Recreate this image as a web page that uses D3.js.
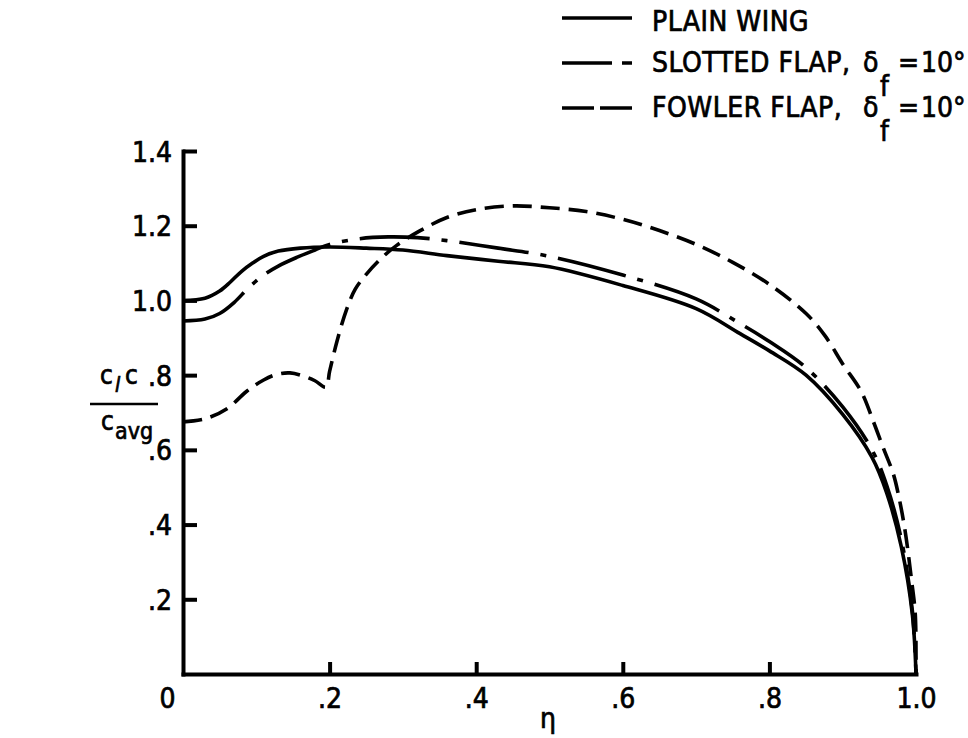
<!DOCTYPE html>
<html>
<head>
<meta charset="utf-8">
<script src="https://cdn.jsdelivr.net/npm/d3@7"></script>
<style>
  body { margin: 0; background: #fff; }
  svg { display: block; }
  text { font-family: "DejaVu Sans Condensed", sans-serif; fill: #000; stroke: #000; stroke-width: 0.7px; }
</style>
</head>
<body>
<svg width="968" height="738"></svg>
<script>
const svg = d3.select('svg');

// spanwise station eta and section load c_l c / c_avg
const plainEta = [0, 0.03, 0.05, 0.065, 0.08, 0.095, 0.11, 0.13, 0.16, 0.2, 0.25, 0.3, 0.36, 0.43, 0.5, 0.6, 0.7, 0.76, 0.8, 0.85, 0.9, 0.94, 0.96, 0.98, 0.995, 1.0];
const plainVal = [1.0, 1.006, 1.025, 1.05, 1.078, 1.1, 1.118, 1.132, 1.14, 1.143, 1.14, 1.135, 1.12, 1.105, 1.09, 1.04, 0.978, 0.911, 0.865, 0.8, 0.695, 0.58, 0.485, 0.34, 0.16, 0];

const slottedEta = [0, 0.03, 0.05, 0.07, 0.09, 0.11, 0.13, 0.155, 0.18, 0.2, 0.24, 0.28, 0.32, 0.36, 0.43, 0.5, 0.6, 0.7, 0.76, 0.8, 0.85, 0.9, 0.94, 0.96, 0.98, 0.995, 1.0];
const slottedVal = [0.945, 0.95, 0.965, 0.995, 1.035, 1.068, 1.092, 1.115, 1.135, 1.15, 1.165, 1.17, 1.168, 1.16, 1.14, 1.118, 1.068, 1.004, 0.938, 0.89, 0.82, 0.715, 0.6, 0.505, 0.36, 0.17, 0];

const fowlerEta = [0, 0.03, 0.06, 0.087, 0.11, 0.128, 0.146, 0.165, 0.18, 0.195, 0.2, 0.21, 0.223, 0.235, 0.25, 0.27, 0.292, 0.323, 0.36, 0.4, 0.45, 0.5, 0.55, 0.6, 0.65, 0.7, 0.75, 0.8, 0.85, 0.876, 0.9, 0.925, 0.942, 0.955, 0.969, 0.976, 0.985, 0.994, 0.999, 1.0];
const fowlerVal = [0.675, 0.683, 0.71, 0.757, 0.787, 0.802, 0.806, 0.797, 0.785, 0.768, 0.81, 0.89, 0.975, 1.03, 1.07, 1.112, 1.148, 1.186, 1.222, 1.243, 1.253, 1.248, 1.238, 1.217, 1.187, 1.15, 1.102, 1.043, 0.965, 0.905, 0.83, 0.757, 0.675, 0.607, 0.536, 0.48, 0.385, 0.25, 0.16, 0];

const xTicks = [0, 0.2, 0.4, 0.6, 0.8, 1.0];
const yTicks = [0.2, 0.4, 0.6, 0.8, 1.0, 1.2, 1.4];

const legendNames = ["PLAIN WING", "SLOTTED FLAP,", "FOWLER FLAP,"];

const DASH = {
    plain: null,
    slotted: "70 12 6 12",
    fowler: "19 9"
};
const LW = 3.6;
const FS = 28;

const x = d3.scaleLinear().domain([0, 1]).range([183, 916]);
const y = d3.scaleLinear().domain([0, 1.4]).range([674, 151]);

const fmt = d => d === 0 ? "0" : (d >= 1 ? d.toFixed(1) : d.toFixed(1).slice(1));

// axes
const gx = svg.append("g")
    .attr("transform", `translate(0,${y(0)})`)
    .call(d3.axisBottom(x).tickValues(xTicks).tickSizeInner(-12).tickSizeOuter(0).tickPadding(14).tickFormat(fmt));
const gy = svg.append("g")
    .attr("transform", `translate(${x(0)},0)`)
    .call(d3.axisLeft(y).tickValues(yTicks).tickSizeInner(-14).tickSizeOuter(0).tickPadding(11).tickFormat(fmt));

[gx, gy].forEach(g => {
    g.select(".domain").attr("stroke", "#000").attr("stroke-width", 4).attr("stroke-linecap", "square");
    g.selectAll(".tick line").attr("stroke", "#000").attr("stroke-width", 4);
    g.selectAll(".tick text").attr("font-size", FS).attr("font-family", null).attr("fill", null);
});
gx.selectAll(".tick").filter(d => d === 0 || d === 1).select("line").remove();
gx.selectAll(".tick").filter(d => d === 0).select("text").attr("dx", -16);
gx.selectAll(".tick text").attr("dy", "0.71em");
gy.selectAll(".tick text").attr("dy", "0.36em");

// curves
const line = d3.line()
    .x(d => x(d[0]))
    .y(d => y(d[1]))
    .curve(d3.curveCatmullRom.alpha(0.5));

const series = [
    { eta: plainEta, val: plainVal, dash: DASH.plain },
    { eta: slottedEta, val: slottedVal, dash: DASH.slotted },
    { eta: fowlerEta, val: fowlerVal, dash: DASH.fowler }
];

svg.append("g")
    .attr("fill", "none")
    .attr("stroke", "#000")
    .attr("stroke-width", LW)
    .selectAll("path")
    .data(series)
    .join("path")
    .attr("d", s => line(d3.zip(s.eta, s.val)))
    .attr("stroke-dasharray", s => s.dash);

// axis titles
const yl = svg.append("g").attr("font-size", 26);
yl.append("text").attr("x", 100).attr("y", 384).text("c");
yl.append("text").attr("x", 115).attr("y", 392).attr("font-size", 21).attr("font-family", "DejaVu Serif").attr("font-style", "italic").text("l");
yl.append("text").attr("x", 125).attr("y", 384).text("c");
yl.append("line").attr("x1", 90).attr("x2", 158).attr("y1", 404).attr("y2", 404).attr("stroke", "#000").attr("stroke-width", 2.5);
yl.append("text").attr("x", 101).attr("y", 430).text("c");
yl.append("text").attr("x", 115).attr("y", 439).attr("font-size", 23).text("avg");

svg.append("text").attr("x", 548).attr("y", 728).attr("text-anchor", "middle").attr("font-size", FS).text("η");

// legend
const lg = svg.append("g").attr("font-size", FS);
const rows = [
    { name: legendNames[0], dash: DASH.plain, ly: 18, ty: 31, delta: false },
    { name: legendNames[1], dash: "50 10 12 40", ly: 63, ty: 72, delta: true },
    { name: legendNames[2], dash: "32 6", ly: 108, ty: 117, delta: true }
];
rows.forEach(r => {
    lg.append("line")
        .attr("x1", 562).attr("x2", 632).attr("y1", r.ly).attr("y2", r.ly)
        .attr("stroke", "#000").attr("stroke-width", LW)
        .attr("stroke-dasharray", r.dash);
    lg.append("text").attr("x", 652).attr("y", r.ty).attr("letter-spacing", 0.5).text(r.name);
    if (r.delta) {
        lg.append("text").attr("x", 863).attr("y", r.ty).text("δ");
        lg.append("text").attr("x", 880).attr("y", r.ty + 24).text("f");
        lg.append("text").attr("x", 898).attr("y", r.ty).text("=");
        lg.append("text").attr("x", 921).attr("y", r.ty).text("10°");
    }
});
</script>
</body>
</html>
